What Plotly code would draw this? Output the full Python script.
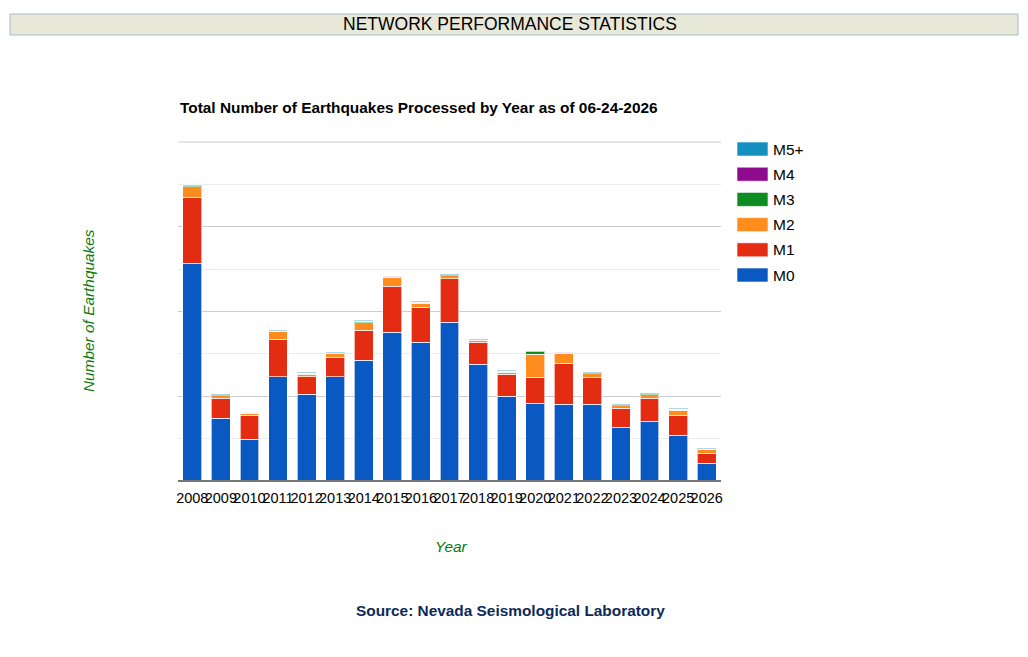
import plotly.graph_objects as go

years = [str(y) for y in range(2008, 2027)]
m0 = [5134, 1478, 983, 2461, 2044, 2461, 2854, 3514, 3278, 3743, 2752, 1997, 1840, 1816, 1816, 1266, 1407, 1085, 417]
m1 = [1557, 472, 574, 880, 417, 464, 700, 1078, 818, 1029, 519, 519, 606, 967, 629, 448, 542, 472, 236]
m2 = [250, 63, 40, 189, 63, 79, 181, 212, 102, 71, 47, 55, 542, 228, 86, 63, 86, 118, 94]
m3 = [25, 25, 20, 15, 20, 15, 30, 20, 20, 20, 15, 20, 63, 20, 25, 20, 20, 20, 15]
m4 = [4, 2, 2, 3, 2, 2, 3, 3, 3, 3, 2, 2, 3, 3, 2, 2, 2, 2, 1]
m5 = [20, 18, 18, 20, 18, 15, 20, 20, 20, 18, 18, 18, 20, 20, 18, 18, 18, 18, 15]

series = [("M0", m0, "#0a58c2"), ("M1", m1, "#e42c12"), ("M2", m2, "#ff8c1c"),
          ("M3", m3, "#0f8c1f"), ("M4", m4, "#8e0a8e"), ("M5+", m5, "#1490c0")]

W, H = 1028, 657
L, R, T, B = 178, 721, 142, 481
FONT = "Liberation Sans, Arial"

def px(x):
    return (x - L) / (R - L)

def py(y):
    return (B - y) / (B - T)

fig = go.Figure()
for name, vals, col in series:
    fig.add_trace(go.Bar(x=years, y=vals, name=name, marker_color=col,
                         marker_line_color="rgba(255,255,255,0.65)", marker_line_width=1,
                         showlegend=False))

shapes = []
annotations = []
# header box
shapes.append(dict(type="rect", xref="paper", yref="paper", x0=px(10), x1=px(1018), y0=py(14), y1=py(35),
                   fillcolor="#e8e8d8", line=dict(color="#a8bccc", width=1), layer="below"))
annotations.append(dict(xref="paper", yref="paper", x=px(510), y=py(24), text="NETWORK PERFORMANCE STATISTICS",
                        showarrow=False, font=dict(family=FONT, size=17.5, color="#000"),
                        xanchor="center", yanchor="middle"))
# chart title
annotations.append(dict(xref="paper", yref="paper", x=px(178), y=py(108),
                        text="<b>Total Number of Earthquakes Processed by Year as of 06-24-2026</b>",
                        showarrow=False, font=dict(family=FONT, size=15.4, color="#000"),
                        xanchor="left", yanchor="middle"))
# axis titles
annotations.append(dict(xref="paper", yref="paper", x=px(88), y=py(311), text="<i>Number of Earthquakes</i>",
                        showarrow=False, textangle=-90,
                        font=dict(family=FONT, size=15.4, color="#0a7a0a"),
                        xanchor="center", yanchor="middle"))
annotations.append(dict(xref="paper", yref="paper", x=px(451), y=py(546), text="<i>Year</i>",
                        showarrow=False, font=dict(family=FONT, size=15.4, color="#0a7a0a"),
                        xanchor="center", yanchor="middle"))
annotations.append(dict(xref="paper", yref="paper", x=px(510), y=py(610),
                        text="<b>Source: Nevada Seismological Laboratory</b>",
                        showarrow=False, font=dict(family=FONT, size=15.4, color="#0b2a5a"),
                        xanchor="center", yanchor="middle"))
# custom legend
for i, (name, vals, col) in enumerate(reversed(series)):
    yc = 149 + i * 25.2
    shapes.append(dict(type="rect", xref="paper", yref="paper", x0=px(737), x1=px(768),
                       y0=py(yc - 7), y1=py(yc + 7), fillcolor=col,
                       line=dict(color="rgba(255,255,255,0.6)", width=1)))
    annotations.append(dict(xref="paper", yref="paper", x=px(771), y=py(yc), text=name, showarrow=False,
                            font=dict(family=FONT, size=15.5, color="#000"),
                            xanchor="left", yanchor="middle"))
# top gridline and baseline
shapes.append(dict(type="line", xref="paper", yref="paper", x0=0, x1=1, y0=1, y1=1,
                   line=dict(color="#cccccc", width=1), layer="below"))
shapes.append(dict(type="line", xref="paper", yref="paper", x0=0, x1=1, y0=0, y1=0,
                   line=dict(color="#777", width=2)))

fig.update_layout(
    width=W, height=H, barmode="stack", bargap=0.34,
    margin=dict(l=L, r=W - R, t=T, b=H - B, pad=0),
    paper_bgcolor="white", plot_bgcolor="white",
    shapes=shapes, annotations=annotations,
    font=dict(family=FONT, size=14, color="#000"),
    xaxis=dict(showgrid=False, showline=False, ticks="", tickangle=0,
               tickfont=dict(family=FONT, size=14.5, color="#000"), ticklabelstandoff=6),
    yaxis=dict(range=[0, 8000], dtick=2000, showgrid=True, gridcolor="#cccccc", gridwidth=1,
               showticklabels=False, zeroline=False, showline=False,
               minor=dict(dtick=1000, showgrid=True, gridcolor="#ebebeb", gridwidth=1)),
)

fig.write_html("out.html")
